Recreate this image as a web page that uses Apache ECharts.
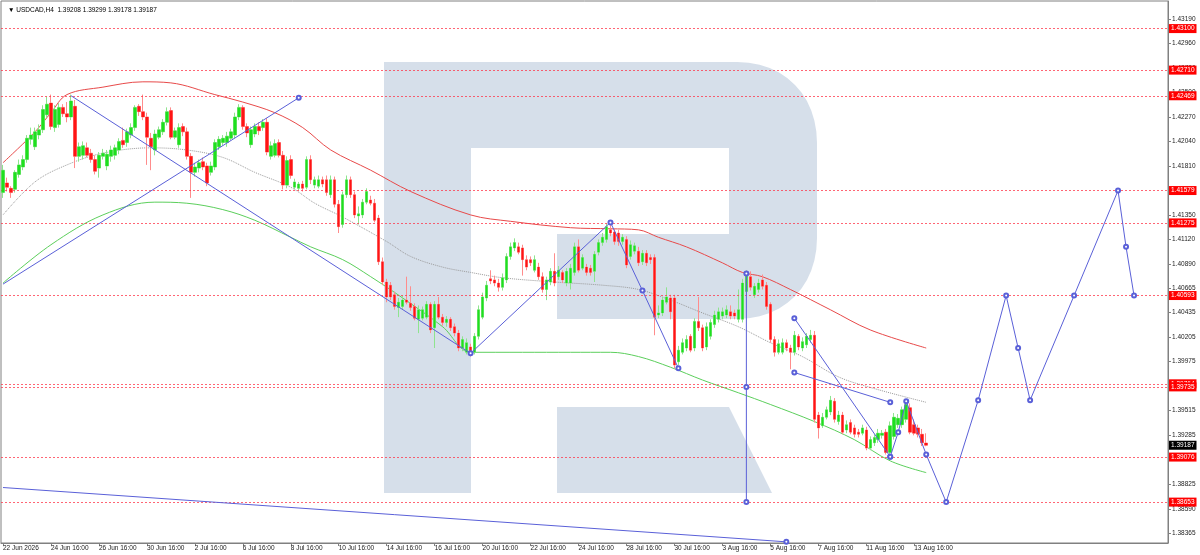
<!DOCTYPE html>
<html>
<head>
<meta charset="utf-8">
<title>USDCAD H4</title>
<script src="https://cdn.jsdelivr.net/npm/echarts@6/dist/echarts.min.js"></script>
<style>
html, body { margin: 0; padding: 0; background: #fff; }
#chart { width: 1200px; height: 555px; }
</style>
</head>
<body>
<div id="chart"></div>
<script>
// H4 bars, [open, close, low, high]
var candles = [
  [1.4156,1.4177,1.4151,1.4182],[1.4165,1.4161,1.4157,1.4170],[1.4160,1.4156,1.4151,1.4162],[1.4159,1.4175,1.4156,1.4177],[1.4173,1.4182,1.4170,1.4187],[1.4180,1.4187,1.4177,1.4191],[1.4187,1.4207,1.4184,1.4210],[1.4206,1.4210,1.4201,1.4217],[1.4199,1.4213,1.4196,1.4217],[1.4210,1.4215,1.4206,1.4220],
  [1.4215,1.4234,1.4212,1.4238],[1.4229,1.4239,1.4226,1.4246],[1.4240,1.4218,1.4215,1.4248],[1.4217,1.4234,1.4213,1.4238],[1.4220,1.4236,1.4217,1.4240],[1.4236,1.4230,1.4227,1.4239],[1.4230,1.4227,1.4222,1.4241],[1.4227,1.4242,1.4224,1.4248],[1.4237,1.4190,1.4179,1.4243],[1.4190,1.4199,1.4185,1.4203],
  [1.4191,1.4200,1.4187,1.4204],[1.4198,1.4191,1.4189,1.4203],[1.4193,1.4187,1.4184,1.4197],[1.4187,1.4176,1.4173,1.4191],[1.4179,1.4191,1.4170,1.4194],[1.4190,1.4193,1.4187,1.4197],[1.4181,1.4192,1.4177,1.4196],[1.4190,1.4196,1.4185,1.4200],[1.4191,1.4198,1.4187,1.4201],[1.4196,1.4204,1.4192,1.4207],
  [1.4205,1.4201,1.4198,1.4217],[1.4203,1.4213,1.4199,1.4216],[1.4210,1.4217,1.4207,1.4221],[1.4217,1.4236,1.4214,1.4238],[1.4237,1.4232,1.4228,1.4239],[1.4232,1.4227,1.4224,1.4248],[1.4227,1.4208,1.4182,1.4231],[1.4207,1.4199,1.4177,1.4212],[1.4196,1.4211,1.4191,1.4215],[1.4208,1.4215,1.4206,1.4218],
  [1.4213,1.4222,1.4210,1.4225],[1.4222,1.4232,1.4219,1.4236],[1.4233,1.4208,1.4206,1.4236],[1.4208,1.4214,1.4206,1.4217],[1.4201,1.4217,1.4198,1.4221],[1.4218,1.4213,1.4209,1.4221],[1.4213,1.4190,1.4187,1.4217],[1.4190,1.4175,1.4151,1.4193],[1.4175,1.4180,1.4171,1.4184],[1.4179,1.4184,1.4175,1.4187],
  [1.4185,1.4180,1.4177,1.4189],[1.4181,1.4165,1.4162,1.4184],[1.4175,1.4181,1.4172,1.4185],[1.4180,1.4203,1.4177,1.4206],[1.4199,1.4206,1.4196,1.4209],[1.4203,1.4207,1.4200,1.4210],[1.4203,1.4209,1.4199,1.4213],[1.4207,1.4213,1.4205,1.4216],[1.4210,1.4227,1.4207,1.4231],[1.4227,1.4236,1.4224,1.4239],
  [1.4236,1.4218,1.4215,1.4238],[1.4218,1.4212,1.4208,1.4221],[1.4201,1.4215,1.4198,1.4218],[1.4211,1.4218,1.4208,1.4221],[1.4218,1.4214,1.4210,1.4222],[1.4217,1.4222,1.4214,1.4225],[1.4222,1.4194,1.4191,1.4226],[1.4190,1.4200,1.4187,1.4204],[1.4191,1.4202,1.4189,1.4206],[1.4203,1.4191,1.4189,1.4206],
  [1.4191,1.4163,1.4159,1.4195],[1.4163,1.4186,1.4160,1.4190],[1.4187,1.4172,1.4169,1.4191],[1.4161,1.4166,1.4159,1.4169],[1.4160,1.4164,1.4158,1.4166],[1.4164,1.4160,1.4157,1.4167],[1.4161,1.4187,1.4159,1.4190],[1.4187,1.4168,1.4164,1.4191],[1.4163,1.4168,1.4160,1.4171],[1.4162,1.4168,1.4160,1.4172],
  [1.4168,1.4164,1.4161,1.4171],[1.4168,1.4156,1.4153,1.4172],[1.4154,1.4168,1.4151,1.4172],[1.4168,1.4145,1.4142,1.4171],[1.4145,1.4124,1.4118,1.4149],[1.4126,1.4154,1.4123,1.4157],[1.4154,1.4168,1.4151,1.4172],[1.4168,1.4154,1.4151,1.4171],[1.4154,1.4135,1.4132,1.4157],[1.4134,1.4136,1.4126,1.4143],
  [1.4135,1.4147,1.4132,1.4150],[1.4147,1.4157,1.4145,1.4160],[1.4149,1.4146,1.4144,1.4153],[1.4146,1.4130,1.4128,1.4150],[1.4132,1.4091,1.4088,1.4135],[1.4091,1.4072,1.4069,1.4095],[1.4072,1.4058,1.4053,1.4075],[1.4069,1.4058,1.4055,1.4072],[1.4060,1.4049,1.4046,1.4063],[1.4048,1.4053,1.4039,1.4057],
  [1.4049,1.4055,1.4046,1.4059],[1.4055,1.4053,1.4051,1.4077],[1.4052,1.4048,1.4045,1.4068],[1.4049,1.4038,1.4036,1.4052],[1.4037,1.4046,1.4024,1.4050],[1.4038,1.4046,1.4036,1.4049],[1.4039,1.4051,1.4037,1.4054],[1.4051,1.4027,1.4024,1.4053],[1.4029,1.4051,1.4010,1.4054],[1.4051,1.4039,1.4037,1.4058],
  [1.4039,1.4034,1.4031,1.4042],[1.4034,1.4037,1.4030,1.4040],[1.4037,1.4029,1.4026,1.4039],[1.4030,1.4024,1.4021,1.4033],[1.4024,1.4010,1.4007,1.4027],[1.4010,1.4018,1.4007,1.4021],[1.4006,1.4015,1.4004,1.4019],[1.4011,1.4006,1.4002,1.4014],[1.4006,1.4021,1.4004,1.4024],[1.4021,1.4046,1.4018,1.4050],
  [1.4039,1.4058,1.4037,1.4062],[1.4057,1.4069,1.4054,1.4073],[1.4075,1.4073,1.4070,1.4083],[1.4074,1.4071,1.4068,1.4078],[1.4071,1.4067,1.4063,1.4075],[1.4067,1.4076,1.4064,1.4080],[1.4074,1.4096,1.4071,1.4099],[1.4096,1.4105,1.4093,1.4109],[1.4104,1.4109,1.4101,1.4113],[1.4105,1.4100,1.4098,1.4109],
  [1.4104,1.4093,1.4078,1.4107],[1.4093,1.4086,1.4083,1.4097],[1.4093,1.4090,1.4087,1.4096],[1.4083,1.4093,1.4081,1.4097],[1.4086,1.4077,1.4074,1.4090],[1.4077,1.4065,1.4062,1.4081],[1.4065,1.4074,1.4055,1.4077],[1.4072,1.4082,1.4069,1.4085],[1.4082,1.4071,1.4068,1.4099],[1.4077,1.4083,1.4074,1.4087],
  [1.4081,1.4074,1.4071,1.4083],[1.4071,1.4082,1.4068,1.4085],[1.4071,1.4085,1.4065,1.4089],[1.4081,1.4105,1.4078,1.4109],[1.4105,1.4083,1.4081,1.4112],[1.4085,1.4095,1.4083,1.4098],[1.4086,1.4081,1.4078,1.4089],[1.4085,1.4081,1.4078,1.4088],[1.4082,1.4098,1.4072,1.4101],[1.4100,1.4109,1.4097,1.4112],
  [1.4109,1.4114,1.4106,1.4118],[1.4112,1.4124,1.4109,1.4127],[1.4121,1.4118,1.4115,1.4128],[1.4119,1.4110,1.4107,1.4122],[1.4118,1.4110,1.4106,1.4121],[1.4110,1.4114,1.4107,1.4117],[1.4112,1.4088,1.4085,1.4115],[1.4096,1.4107,1.4093,1.4111],[1.4101,1.4106,1.4098,1.4109],[1.4101,1.4090,1.4087,1.4105],
  [1.4091,1.4099,1.4088,1.4102],[1.4099,1.4090,1.4087,1.4102],[1.4095,1.4093,1.4089,1.4098],[1.4095,1.4039,1.4022,1.4098],[1.4041,1.4043,1.4038,1.4050],[1.4043,1.4055,1.4040,1.4058],[1.4053,1.4058,1.4051,1.4067],[1.4057,1.4044,1.4037,1.4060],[1.4057,1.3994,1.3991,1.4060],[1.3997,1.4008,1.3994,1.4012],
  [1.4006,1.4015,1.4004,1.4019],[1.4010,1.4018,1.4007,1.4022],[1.4021,1.4008,1.4006,1.4023],[1.4010,1.4035,1.4007,1.4038],[1.4035,1.4029,1.4026,1.4058],[1.4029,1.4010,1.4007,1.4032],[1.4011,1.4030,1.4008,1.4034],[1.4021,1.4034,1.4018,1.4037],[1.4032,1.4041,1.4029,1.4045],[1.4037,1.4044,1.4034,1.4048],
  [1.4040,1.4044,1.4037,1.4048],[1.4041,1.4046,1.4038,1.4050],[1.4044,1.4040,1.4037,1.4050],[1.4043,1.4040,1.4037,1.4046],[1.4037,1.4046,1.4034,1.4065],[1.4037,1.4071,1.4034,1.4075],[1.4063,1.4081,1.4060,1.4083],[1.4077,1.4067,1.4064,1.4082],[1.4060,1.4068,1.4057,1.4071],[1.4065,1.4071,1.4062,1.4075],
  [1.4074,1.4068,1.4065,1.4079],[1.4069,1.4049,1.4046,1.4072],[1.4051,1.4018,1.4015,1.4053],[1.4018,1.4006,1.4002,1.4021],[1.4006,1.4014,1.4004,1.4018],[1.4006,1.4015,1.4004,1.4019],[1.4015,1.4010,1.4007,1.4018],[1.4010,1.4006,1.3990,1.4013],[1.4006,1.4022,1.4003,1.4026],[1.4021,1.4011,1.4008,1.4023],
  [1.4010,1.4016,1.4007,1.4020],[1.4013,1.4021,1.4010,1.4024],[1.4018,1.4022,1.4015,1.4027],[1.4022,1.3943,1.3940,1.4026],[1.3947,1.3935,1.3925,1.3950],[1.3937,1.3945,1.3935,1.3949],[1.3945,1.3952,1.3943,1.3955],[1.3950,1.3961,1.3947,1.3965],[1.3960,1.3943,1.3940,1.3963],[1.3941,1.3947,1.3938,1.3951],
  [1.3947,1.3931,1.3929,1.3950],[1.3933,1.3938,1.3930,1.3942],[1.3940,1.3931,1.3929,1.3943],[1.3935,1.3929,1.3926,1.3938],[1.3931,1.3929,1.3926,1.3934],[1.3930,1.3935,1.3928,1.3938],[1.3933,1.3916,1.3914,1.3936],[1.3916,1.3924,1.3914,1.3927],[1.3921,1.3926,1.3918,1.3929],[1.3924,1.3930,1.3921,1.3934],
  [1.3928,1.3930,1.3925,1.3933],[1.3931,1.3912,1.3910,1.3934],[1.3912,1.3937,1.3908,1.3941],[1.3927,1.3945,1.3924,1.3949],[1.3938,1.3944,1.3935,1.3948],[1.3938,1.3952,1.3935,1.3955],[1.3943,1.3957,1.3940,1.3961],[1.3954,1.3931,1.3929,1.3958],[1.3938,1.3930,1.3928,1.3943],[1.3935,1.3929,1.3926,1.3938],
  [1.3929,1.3921,1.3918,1.3934],[1.39208,1.39187,1.39178,1.39299]
];

// moving averages, [bar index, price]
var redMA = [[0,1.4184],[8,1.4213],[12,1.4231],[16,1.4248],[25,1.4255],[35,1.4260],[42,1.4259],[53,1.4248],[60,1.4241],[68,1.4231],[75,1.4217],[82,1.4196],[92,1.4177],[102,1.4157],[117,1.4135],[127,1.4129],[142,1.4123],[152,1.4122],[159,1.4121],[164,1.4114],[171,1.4105],[180,1.4090],[185,1.4081],[190,1.4077],[197,1.4065],[207,1.4046],[217,1.4027],[231,1.4010]];
var greenMA = [[0,1.4071],[12,1.4107],[25,1.4135],[38,1.4147],[46,1.4146],[55,1.4140],[63,1.4130],[72,1.4114],[77,1.4105],[85,1.4093],[92,1.4077],[100,1.4057],[110,1.4030],[117,1.4006],[130,1.4006],[142,1.4006],[152,1.4006],[159,1.4002],[167,1.3992],[175,1.3980],[184,1.3968],[192,1.3957],[203,1.3941],[213,1.3924],[222,1.3904],[231,1.3893]];
var grayMA = [[0,1.4135],[8,1.4166],[16,1.4182],[25,1.4193],[37,1.4198],[46,1.4196],[55,1.4189],[63,1.4175],[72,1.4161],[78,1.4146],[85,1.4133],[96,1.4110],[102,1.4096],[110,1.4086],[117,1.4081],[125,1.4076],[138,1.4072],[150,1.4069],[159,1.4065],[167,1.4055],[175,1.4043],[184,1.4030],[192,1.4015],[200,1.4002],[209,1.3983],[217,1.3973],[231,1.3959]];

// drawn objects
var trendUp = [[0,1.4070],[74,1.4245]];
var trendDown = [[17,1.4247],[117,1.4005]];
var zigzag = [[117,1.4005],[152,1.4128],[160,1.4064],[169,1.3991]];
var vertLine = [[186,1.4080],[186,1.39735],[186,1.38653]];
var channelTop = [[198,1.4038],[222,1.3908]];
var channelLow = [[198,1.3987],[222,1.3959]];
var forecast = [[222,1.3908],[224,1.3931],[226,1.3960],[231,1.3910],[236,1.38653],[244,1.3961],[251,1.40593],[254,1.4010],[257,1.3961],[268,1.40593],[279,1.41579],[281,1.4105],[283,1.40593]];
var bottomLine = [[0,1.3879],[196,1.3828]];

var levels = [1.43100, 1.42710, 1.42469, 1.41579, 1.41275, 1.40593, 1.39764, 1.39735, 1.39076, 1.38653];
var yTicks = [1.43190,1.42960,1.42730,1.42500,1.42270,1.42040,1.41810,1.41580,1.41350,1.41120,1.40890,1.40665,1.40435,1.40205,1.39975,1.39745,1.39515,1.39285,1.39055,1.38825,1.38590,1.38365];
var xTickLabels = ['22 Jun 2026','24 Jun 16:00','26 Jun 16:00','30 Jun 16:00','2 Jul 16:00','6 Jul 16:00','8 Jul 16:00','10 Jul 16:00','14 Jul 16:00','16 Jul 16:00','20 Jul 16:00','22 Jul 16:00','24 Jul 16:00','28 Jul 16:00','30 Jul 16:00','3 Aug 16:00','5 Aug 16:00','7 Aug 16:00','11 Aug 16:00','13 Aug 16:00'];
var barsPerLabel = 12;
var slotCount = 292;

var FONT = 'Liberation Sans, Arial, sans-serif';
var BLUE = '#5a60d8';
var WATERMARK = '#d6dfea';

var slots = [];
for (var i = 0; i < slotCount; i++) slots.push('b' + i);

var last = candles[candles.length - 1];
var header = '\u25BC USDCAD,H4  ' + [last[0], last[3], last[2], last[1]].map(function (v) { return v.toFixed(5); }).join(' ');

function showTick(idx) {
  return idx % barsPerLabel === 0 && idx / barsPerLabel < xTickLabels.length;
}

// background logo outline: points along a cubic curve
function bez(p0, p1, p2, p3, n) {
  var out = [];
  for (var k = 1; k <= n; k++) {
    var t = k / n, u = 1 - t;
    out.push([
      u*u*u*p0[0] + 3*u*u*t*p1[0] + 3*u*t*t*p2[0] + t*t*t*p3[0],
      u*u*u*p0[1] + 3*u*u*t*p1[1] + 3*u*t*t*p2[1] + t*t*t*p3[1]
    ]);
  }
  return out;
}
var logoBody = [[384,62],[737,62]]
  .concat(bez([737,62],[785,62],[817,96],[817,143],12))
  .concat([[817,238]])
  .concat(bez([817,238],[817,285],[785,319],[737,319],12))
  .concat([[557,319],[557,234],[729,234],[729,148],[471,148],[471,493],[384,493]]);
var logoLeg = [[557,407],[729,407],[772,493],[557,493]];

function maLine(pts, color, type) {
  return {
    type: 'line', data: pts, smooth: 0.35, symbol: 'none', silent: true, z: 3,
    lineStyle: { color: color, width: 1, type: type || 'solid' }
  };
}

function blueLine(pts, marked) {
  return {
    type: 'line', silent: true, z: 6, showSymbol: true, showAllSymbol: true, symbolSize: 4,
    data: pts.map(function (p, k) {
      return { value: p, symbol: marked.indexOf(k) >= 0 ? 'emptyCircle' : 'none' };
    }),
    lineStyle: { color: BLUE, width: 1 },
    itemStyle: { color: BLUE, borderWidth: 1 }
  };
}

var chart = echarts.init(document.getElementById('chart'));
chart.setOption({
  animation: false,
  backgroundColor: '#ffffff',
  textStyle: { fontFamily: FONT },
  title: {
    text: header, left: 3, top: 2,
    textStyle: { fontSize: 6.5, fontWeight: 'normal', color: '#000', fontFamily: FONT }
  },
  grid: {
    left: 0, right: 32, top: 1, bottom: 12,
    show: true, borderColor: '#808080', borderWidth: 1
  },
  graphic: [
    { type: 'polygon', silent: true, z: 0, shape: { points: logoBody }, style: { fill: WATERMARK } },
    { type: 'polygon', silent: true, z: 0, shape: { points: logoLeg }, style: { fill: WATERMARK } }
  ],
  xAxis: {
    type: 'category', data: slots, boundaryGap: true,
    axisLine: { lineStyle: { color: '#808080' } },
    axisTick: { show: true, interval: showTick, alignWithLabel: true, length: 3, lineStyle: { color: '#808080' } },
    axisLabel: {
      interval: showTick, align: 'left', margin: 2, fontSize: 6.5, color: '#222', fontFamily: FONT,
      formatter: function (v, idx) { return xTickLabels[idx / barsPerLabel] || ''; }
    },
    splitLine: { show: false }
  },
  yAxis: {
    type: 'value', position: 'right', min: 1.38269, max: 1.43359,
    axisLine: { show: true, lineStyle: { color: '#808080' } },
    axisTick: { show: true, length: 3, customValues: yTicks, lineStyle: { color: '#808080' } },
    axisLabel: {
      customValues: yTicks, margin: 4, fontSize: 6.5, color: '#222', fontFamily: FONT,
      formatter: function (v) { return v.toFixed(5); }
    },
    splitLine: { show: false }
  },
  series: [
    maLine(grayMA, '#9a9a9a', 'dotted'),
    maLine(greenMA, '#5ccf5c'),
    maLine(redMA, '#e84a4a'),
    {
      type: 'candlestick', data: candles, barWidth: 3, silent: true, z: 4,
      itemStyle: {
        color: '#a4eca4', color0: '#ffa0a0',
        borderColor: '#8fe48f', borderColor0: '#ff8c8c', borderColorDoji: '#ff8c8c', borderWidth: 1
      },
      markLine: {
        silent: true, symbol: ['none', 'none'], precision: 5,
        lineStyle: { color: 'rgba(255,50,70,0.75)', type: [2, 2], width: 1 },
        label: {
          position: 'end', distance: 1, color: '#fff', backgroundColor: '#ff0000',
          fontSize: 6.5, fontFamily: FONT, padding: [1, 2, 1, 2],
          formatter: function (p) { return Number(p.value).toFixed(5); }
        },
        data: levels.map(function (v) { return { yAxis: v }; }).concat([
          { yAxis: last[1], lineStyle: { color: 'rgba(0,0,0,0)' },
            label: { backgroundColor: '#000', color: '#fff' } }
        ])
      }
    },
    {
      type: 'candlestick', data: candles, barWidth: 3, silent: true, z: 5,
      itemStyle: { color: '#1ee01e', color0: '#ff1414', borderWidth: 0 }
    },
    blueLine(trendUp, [1]),
    blueLine(trendDown, []),
    blueLine(zigzag, [0, 1, 2, 3]),
    blueLine(vertLine, [0, 1, 2]),
    blueLine(channelTop, [0, 1]),
    blueLine(channelLow, [0, 1]),
    blueLine(forecast, [0, 1, 2, 3, 4, 5, 6, 7, 8, 9, 10, 11, 12]),
    blueLine(bottomLine, [1])
  ]
});
</script>
</body>
</html>
